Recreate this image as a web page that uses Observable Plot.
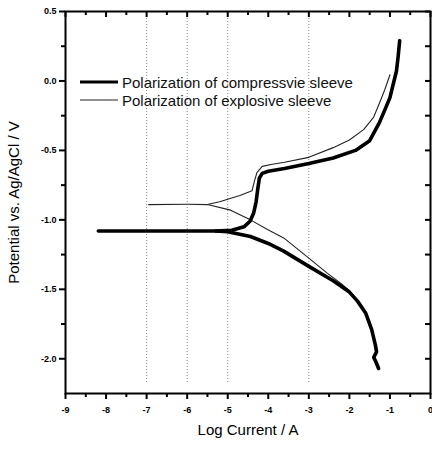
<!DOCTYPE html>
<html><head><meta charset="utf-8">
<script src="https://cdn.jsdelivr.net/npm/d3@7"></script>
<script src="https://cdn.jsdelivr.net/npm/@observablehq/plot@0.6"></script>
<style>
body{margin:0;background:#fff;}
#wrap{position:relative;width:432px;height:449px;font-family:"Liberation Sans",Arial,sans-serif;}
#legend{position:absolute;left:80px;top:73px;font-size:15px;color:#111;}
.item{display:flex;align-items:center;height:18px;white-space:nowrap;}
.item svg{margin-right:4px;display:block}
</style></head><body><div id="wrap"><div id="legend"></div></div>
<script>
// Series names
const seriesNames = ["Polarization of compressvie sleeve", "Polarization of explosive sleeve"];

// Compressive sleeve (thick) - flat + anodic branch
const compAnodicLog = [-8.19,-7,-6,-5.3,-4.9,-4.6,-4.45,-4.36,-4.3,-4.26,-4.22,-4.15,-4.0,-3.6,-3.0,-2.4,-1.85,-1.5,-1.26,-1.1,-1.0,-0.9,-0.84,-0.8,-0.76];
const compAnodicE   = [-1.08,-1.08,-1.08,-1.08,-1.075,-1.05,-1.01,-0.95,-0.87,-0.78,-0.70,-0.665,-0.65,-0.63,-0.595,-0.555,-0.50,-0.43,-0.30,-0.19,-0.12,0.0,0.07,0.17,0.29];
// Compressive sleeve - cathodic branch
const compCathLog = [-5.3,-5.0,-4.44,-4.0,-3.62,-3.0,-2.39,-2.0,-1.8,-1.6,-1.45,-1.36,-1.33,-1.4,-1.35,-1.28];
const compCathE   = [-1.08,-1.085,-1.12,-1.17,-1.225,-1.335,-1.44,-1.52,-1.585,-1.67,-1.79,-1.9,-1.95,-1.99,-2.02,-2.07];

// Explosive sleeve (thin) - flat + anodic branch
const explAnodicLog = [-6.95,-6.0,-5.5,-5.2,-4.7,-4.4,-4.34,-4.28,-4.15,-3.9,-3.6,-3.0,-2.4,-2.0,-1.65,-1.4,-1.26,-1.13,-1.0];
const explAnodicE   = [-0.89,-0.888,-0.89,-0.87,-0.825,-0.79,-0.72,-0.66,-0.615,-0.60,-0.585,-0.55,-0.48,-0.425,-0.35,-0.26,-0.16,-0.065,0.045];
// Explosive sleeve - cathodic branch
const explCathLog = [-5.5,-4.93,-4.44,-4.02,-3.62,-3.0,-2.54,-2.2,-2.0,-1.8,-1.6,-1.45,-1.36,-1.33];
const explCathE   = [-0.89,-0.93,-1.0,-1.07,-1.13,-1.275,-1.385,-1.46,-1.51,-1.585,-1.67,-1.79,-1.9,-1.95];

// Axes
const xTicks = [-9,-8,-7,-6,-5,-4,-3,-2,-1,0];
const xMinor = [-8.5,-7.5,-6.5,-5.5,-4.5,-3.5,-2.5,-1.5,-0.5];
const yTicks = [-2.0,-1.5,-1.0,-0.5,0.0,0.5];
const yMinor = [-1.75,-1.25,-0.75,-0.25,0.25];
const gridX = [-7,-6,-5,-3];
const xLabel = "Log Current / A";
const yLabel = "Potential vs. Ag/AgCl / V";

function rows(xs, ys, series, branch){ return xs.map((x,i)=>({x, y: ys[i], series, key: series+branch})); }
const thick = [...rows(compAnodicLog, compAnodicE, seriesNames[0], "a"), ...rows(compCathLog, compCathE, seriesNames[0], "c")];
const thin = [...rows(explAnodicLog, explAnodicE, seriesNames[1], "a"), ...rows(explCathLog, explCathE, seriesNames[1], "c")];

const W = 432, H = 449, mL = 65, mR = 2, mT = 11, mB = 56;
const fw = W - mL - mR, fh = H - mT - mB;
const tk = {stroke: "#000", strokeWidth: 2};
const chart = Plot.plot({
  width: W, height: H,
  marginLeft: mL, marginRight: mR, marginTop: mT, marginBottom: mB,
  x: {domain: [-9, 0]},
  y: {domain: [-2.25, 0.5]},
  style: {fontFamily: '"Liberation Sans", Arial, sans-serif', fontSize: "9px", color: "#000", background: "transparent"},
  marks: [
    Plot.ruleX(gridX, {stroke: "#888", strokeDasharray: "1,2", insetTop: 4, insetBottom: 11}),
    Plot.line(thin, {x: "x", y: "y", z: "key", stroke: "#222", strokeWidth: 1.1}),
    Plot.line(thick, {x: "x", y: "y", z: "key", stroke: "#000", strokeWidth: 3.6, strokeLinejoin: "round"}),
    // bottom ticks (outward)
    Plot.tickX(xTicks, {x: d => d, ...tk, insetTop: fh, insetBottom: -6}),
    Plot.tickX(xMinor, {x: d => d, ...tk, insetTop: fh, insetBottom: -4}),
    // top ticks (inward)
    Plot.tickX(xTicks, {x: d => d, ...tk, insetTop: 0, insetBottom: fh - 6}),
    Plot.tickX(xMinor, {x: d => d, ...tk, insetTop: 0, insetBottom: fh - 4}),
    // left ticks (outward)
    Plot.tickY(yTicks, {y: d => d, ...tk, insetLeft: -6, insetRight: fw}),
    Plot.tickY(yMinor, {y: d => d, ...tk, insetLeft: -4, insetRight: fw}),
    // right ticks (inward)
    Plot.tickY([...yTicks, ...yMinor], {y: d => d, ...tk, insetLeft: fw - 5, insetRight: 0}),
    Plot.axisX(xTicks, {anchor: "bottom", tickSize: 0, tickPadding: 13, tickFormat: d => String(d), fontWeight: "bold", label: null}),
    Plot.axisY(yTicks, {anchor: "left", tickSize: 0, tickPadding: 9, tickFormat: d => d.toFixed(1), fontWeight: "bold", label: null}),
    Plot.frame({stroke: "#000", strokeWidth: 2}),
    Plot.text([yLabel], {frameAnchor: "left", textAnchor: "middle", dx: -51, rotate: -90, fontSize: 15}),
    Plot.text([xLabel], {frameAnchor: "bottom", dy: 41, fontSize: 15})
  ]
});
document.getElementById("wrap").prepend(chart);

// Legend
const legendStyles = [{w: 3.2, c: "#000"}, {w: 1.1, c: "#222"}];
const legend = document.getElementById("legend");
seriesNames.forEach((name, i) => {
  const item = document.createElement("div");
  item.className = "item";
  item.innerHTML = `<svg width="38" height="8"><line x1="0" x2="38" y1="4" y2="4" stroke="${legendStyles[i].c}" stroke-width="${legendStyles[i].w}"/></svg><span>${name}</span>`;
  legend.appendChild(item);
});
</script></body></html>
